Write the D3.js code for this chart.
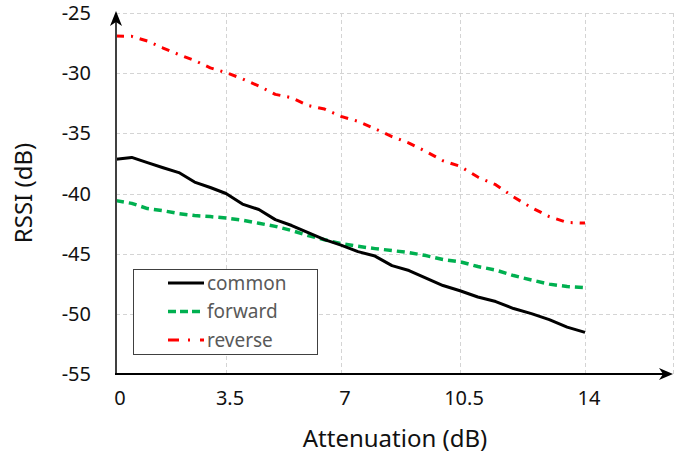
<!DOCTYPE html>
<html>
<head>
<meta charset="utf-8">
<script src="https://cdn.jsdelivr.net/npm/d3@7"></script>
<style>
  body { margin: 0; background: #fff; }
  text { font-family: "Noto Sans", sans-serif; }
</style>
</head>
<body>
<div id="chart"></div>
<script>
// Data (attenuation in dB, RSSI in dB)
const attenuation = [0, 0.5, 1, 1.5, 2, 2.5, 3, 3.5, 4, 4.5, 5, 5.5, 6, 6.5, 7,
    7.5, 8, 8.5, 9, 9.5, 10, 10.5, 11, 11.5, 12, 12.5, 13, 13.5, 14];
const common = [-37.16, -37.0, -37.43, -37.86, -38.26, -39.05, -39.5, -40.0, -40.88, -41.33,
    -42.17, -42.66, -43.25, -43.83, -44.29, -44.83, -45.2, -45.99, -46.4, -47.03,
    -47.65, -48.08, -48.6, -48.98, -49.56, -49.98, -50.48, -51.1, -51.54];
const forward = [-40.59, -40.82, -41.25, -41.43, -41.67, -41.83, -41.92, -42.04, -42.21, -42.47,
    -42.73, -43.08, -43.5, -43.84, -44.16, -44.39, -44.58, -44.74, -44.91, -45.16,
    -45.49, -45.67, -46.07, -46.36, -46.82, -47.19, -47.53, -47.73, -47.82];
const reverse = [-26.91, -26.94, -27.33, -27.91, -28.45, -28.95, -29.56, -29.95, -30.47, -31.07,
    -31.76, -32.04, -32.69, -32.98, -33.59, -34.0, -34.62, -35.27, -35.81, -36.51,
    -37.28, -37.74, -38.63, -39.27, -40.29, -41.17, -41.92, -42.41, -42.46];
const seriesNames = ["common", "forward", "reverse"];
const xTicks = [0, 3.5, 7, 10.5, 14];
const yTicks = [-25, -30, -35, -40, -45, -50, -55];

const width = 694, height = 457;
const plot = {left: 116, right: 673, top: 13, bottom: 374};

const svg = d3.select("#chart")
    .append("svg")
    .attr("width", width)
    .attr("height", height);

svg.append("rect").attr("width", width).attr("height", height).attr("fill", "#fff");

// Scales (x grid in the original is not evenly spaced)
const xScale = d3.scaleLinear()
    .domain([0, 3.5, 7, 10.5, 14, 16.4])
    .range([plot.left, 226, 341, 460, 585, plot.right]);
const yScale = d3.scaleLinear()
    .domain([-55, -25])
    .range([plot.bottom, plot.top]);

// Gridlines
const grid = svg.append("g")
    .attr("stroke", "#d4d4d4")
    .attr("stroke-width", 1)
    .attr("stroke-dasharray", "4,3");

grid.selectAll(".hgrid")
    .data(yTicks.filter(d => d > -55))
    .enter().append("line")
    .attr("x1", plot.left)
    .attr("x2", plot.right)
    .attr("y1", d => Math.round(yScale(d)) + 0.5)
    .attr("y2", d => Math.round(yScale(d)) + 0.5);

grid.selectAll(".vgrid")
    .data(xTicks.filter(d => d > 0).concat([16.4]))
    .enter().append("line")
    .attr("x1", d => Math.round(xScale(d)) + 0.5)
    .attr("x2", d => Math.round(xScale(d)) + 0.5)
    .attr("y1", plot.top)
    .attr("y2", plot.bottom);

// Tick labels
svg.append("g").selectAll("text")
    .data(yTicks)
    .enter().append("text")
    .attr("x", 91)
    .attr("y", d => yScale(d))
    .attr("dy", "0.35em")
    .attr("text-anchor", "end")
    .attr("font-size", 20)
    .attr("fill", "#111")
    .text(d => d3.format("")(d).replace("−", "-"));

svg.append("g").selectAll("text")
    .data(xTicks)
    .enter().append("text")
    .attr("x", d => xScale(d) + 4)
    .attr("y", 405)
    .attr("text-anchor", "middle")
    .attr("font-size", 20)
    .attr("fill", "#111")
    .text(d => d);

// Axis titles
svg.append("text")
    .attr("x", 395)
    .attr("y", 447)
    .attr("text-anchor", "middle")
    .attr("font-size", 24)
    .attr("fill", "#111")
    .text("Attenuation (dB)");

svg.append("text")
    .attr("transform", "translate(32,193) rotate(-90)")
    .attr("text-anchor", "middle")
    .attr("font-size", 24)
    .attr("fill", "#111")
    .text("RSSI (dB)");

// Series lines
const styles = {
    common: {color: "#000000", dash: null, width: 3},
    forward: {color: "#00b050", dash: "8,5", width: 3.5},
    reverse: {color: "#ff0000", dash: "8,7,2,7", width: 3}
};
const values = {common: common, forward: forward, reverse: reverse};

const line = d3.line()
    .x(d => xScale(d[0]))
    .y(d => yScale(d[1]));

// draw reverse & forward first, common on top near the crossing
["reverse", "forward", "common"].forEach(name => {
    svg.append("path")
        .datum(attenuation.map((a, i) => [a, values[name][i]]))
        .attr("fill", "none")
        .attr("stroke", styles[name].color)
        .attr("stroke-width", styles[name].width)
        .attr("stroke-dasharray", styles[name].dash)
        .attr("stroke-linejoin", "round")
        .attr("d", line);
});

// Axis lines with arrowheads
svg.append("line")
    .attr("x1", plot.left).attr("x2", plot.left)
    .attr("y1", plot.bottom + 1).attr("y2", plot.top + 4)
    .attr("stroke", "#404040").attr("stroke-width", 2);
svg.append("path")
    .attr("d", `M${plot.left},${plot.top - 2} L${plot.left - 6},${plot.top + 13} L${plot.left},${plot.top + 9} L${plot.left + 6},${plot.top + 13} Z`)
    .attr("fill", "#000");

svg.append("line")
    .attr("x1", plot.left - 1).attr("x2", plot.right - 4)
    .attr("y1", plot.bottom).attr("y2", plot.bottom)
    .attr("stroke", "#000").attr("stroke-width", 2);
svg.append("path")
    .attr("d", `M${plot.right},${plot.bottom} L${plot.right - 14},${plot.bottom - 6} L${plot.right - 10},${plot.bottom} L${plot.right - 14},${plot.bottom + 6} Z`)
    .attr("fill", "#000");

// Legend
const legend = svg.append("g");
legend.append("rect")
    .attr("x", 133.5).attr("y", 269.5)
    .attr("width", 184).attr("height", 85)
    .attr("fill", "#fff")
    .attr("stroke", "#404040")
    .attr("stroke-width", 1);

const legendRows = legend.selectAll(".row")
    .data(seriesNames)
    .enter().append("g")
    .attr("transform", (d, i) => "translate(0," + (283 + i * 28.5) + ")");

legendRows.append("line")
    .attr("x1", 168).attr("x2", 204)
    .attr("y1", 0).attr("y2", 0)
    .attr("stroke", d => styles[d].color)
    .attr("stroke-width", d => styles[d].width)
    .attr("stroke-dasharray", d => d === "forward" ? "8,4" : d === "reverse" ? "11,9,2,10" : null);

legendRows.append("text")
    .attr("x", 207)
    .attr("y", 0)
    .attr("dy", "0.35em")
    .attr("font-size", 19)
    .attr("fill", "#595959")
    .text(d => d);
</script>
</body>
</html>
